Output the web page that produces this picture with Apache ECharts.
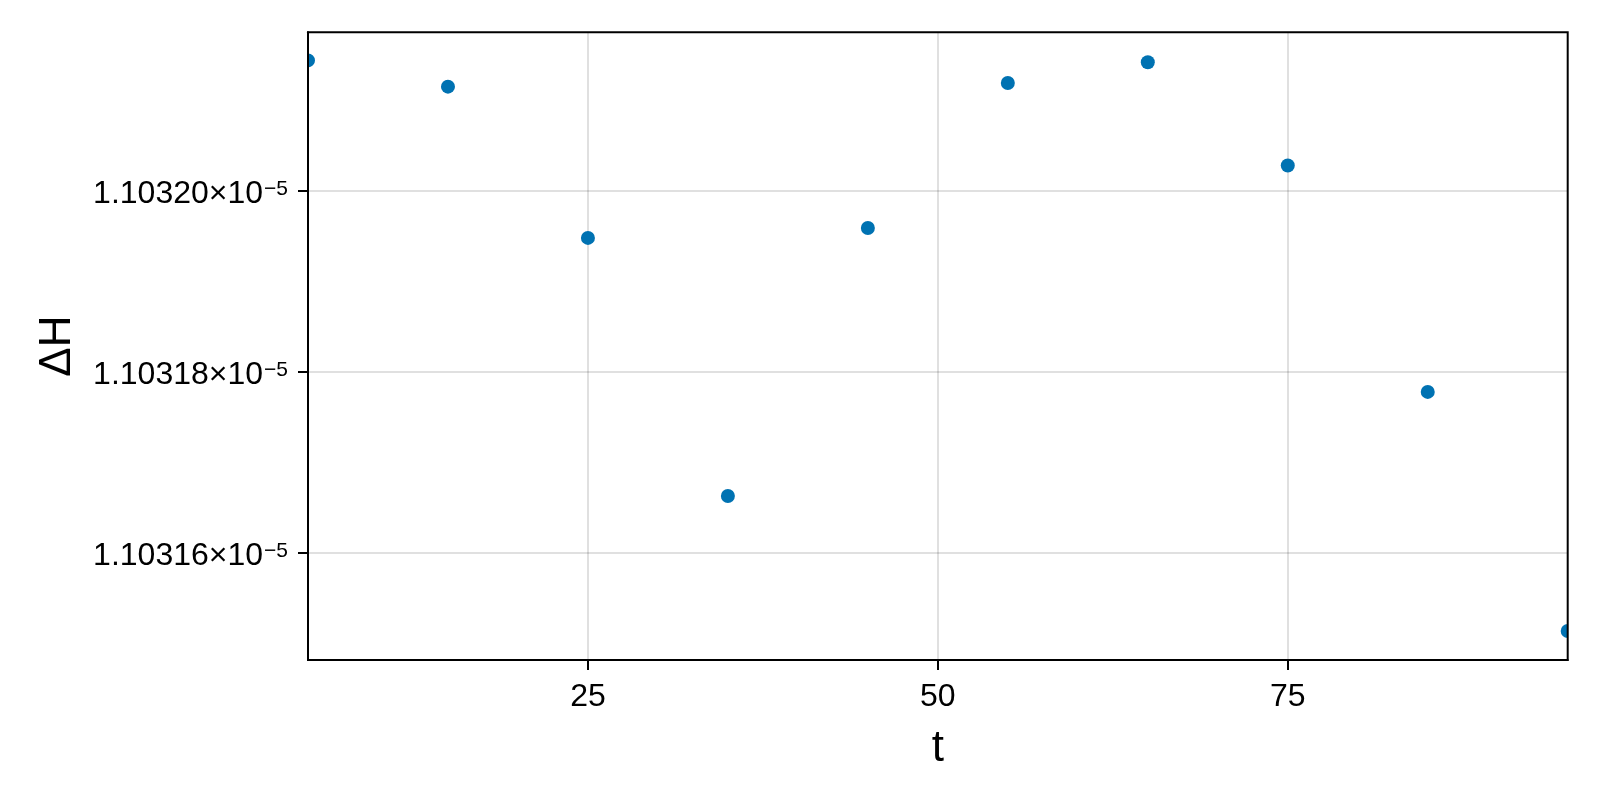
<!DOCTYPE html>
<html>
<head>
<meta charset="utf-8">
<title>ΔH vs t</title>
<script src="https://cdn.jsdelivr.net/npm/echarts@6/dist/echarts.min.js"></script>
<style>
    html, body { margin: 0; padding: 0; background: #ffffff; }
    #chart { width: 1600px; height: 800px; }
</style>
</head>
<body>
<div id="chart"></div>
<script>
// data
const tValues = [5, 15, 25, 35, 45, 55, 65, 75, 85, 95];
const deltaH = [
    1.1032144e-5, 1.1032115e-5, 1.1031948e-5, 1.1031663e-5, 1.1031959e-5,
    1.1032119e-5, 1.1032142e-5, 1.1032028e-5, 1.1031778e-5, 1.1031514e-5
];

// axis ticks and ranges
const xTicks = [25, 50, 75];
const yTicks = [1.10316e-5, 1.10318e-5, 1.10320e-5];
const xRange = [5, 95];
const yRange = [1.1031482e-5, 1.1032175e-5];

const FONT = "'Liberation Sans', Arial, sans-serif";
const pointColor = '#0072B2';

const chart = echarts.init(document.getElementById('chart'), null, { renderer: 'canvas' });

// "1.10320×10⁻⁵" with a real superscript
function sciLabel(value) {
    const mant = (value * 1e5).toFixed(5);
    return '{m|' + mant + '×10}{s|−5}';
}

chart.setOption({
    animation: false,
    backgroundColor: '#ffffff',
    grid: {
        show: true,
        z: 10,
        left: 308,
        right: 32.3,
        top: 32.3,
        bottom: 140,
        borderColor: '#000000',
        borderWidth: 2,
        backgroundColor: 'transparent'
    },
    xAxis: {
        type: 'value',
        min: xRange[0],
        max: xRange[1],
        name: 't',
        nameLocation: 'middle',
        nameGap: 67,
        nameTextStyle: { fontFamily: FONT, fontSize: 44, color: '#000' },
        axisLine: { show: true, lineStyle: { color: '#000', width: 2 } },
        axisTick: {
            show: true,
            length: 10,
            lineStyle: { color: '#000', width: 2 },
            customValues: xTicks
        },
        axisLabel: {
            customValues: xTicks,
            margin: 21,
            fontFamily: FONT,
            fontSize: 32,
            color: '#000'
        },
        splitLine: { show: true, lineStyle: { color: 'rgba(0,0,0,0.12)', width: 2 } }
    },
    yAxis: {
        type: 'value',
        min: yRange[0],
        max: yRange[1],
        name: 'ΔH',
        nameLocation: 'middle',
        nameGap: 228,
        nameTextStyle: { fontFamily: FONT, fontSize: 44, color: '#000' },
        axisLine: { show: true, lineStyle: { color: '#000', width: 2 } },
        axisTick: {
            show: true,
            length: 10,
            lineStyle: { color: '#000', width: 2 },
            customValues: yTicks
        },
        axisLabel: {
            customValues: yTicks,
            margin: 20,
            formatter: sciLabel,
            rich: {
                m: { fontFamily: FONT, fontSize: 32, lineHeight: 32, color: '#000', padding: [6, 0, 0, 0] },
                s: { fontFamily: FONT, fontSize: 21, lineHeight: 21, color: '#000', verticalAlign: 'top', padding: [4, 0, 0, 1] }
            }
        },
        splitLine: { show: true, lineStyle: { color: 'rgba(0,0,0,0.12)', width: 2 } }
    },
    series: [{
        type: 'custom',
        clip: true,
        data: tValues.map((t, i) => [t, deltaH[i]]),
        encode: { x: 0, y: 1 },
        renderItem(params, api) {
            const p = api.coord([api.value(0), api.value(1)]);
            return {
                type: 'circle',
                shape: { cx: p[0], cy: p[1], r: 7 },
                style: { fill: pointColor }
            };
        }
    }]
});
</script>
</body>
</html>
